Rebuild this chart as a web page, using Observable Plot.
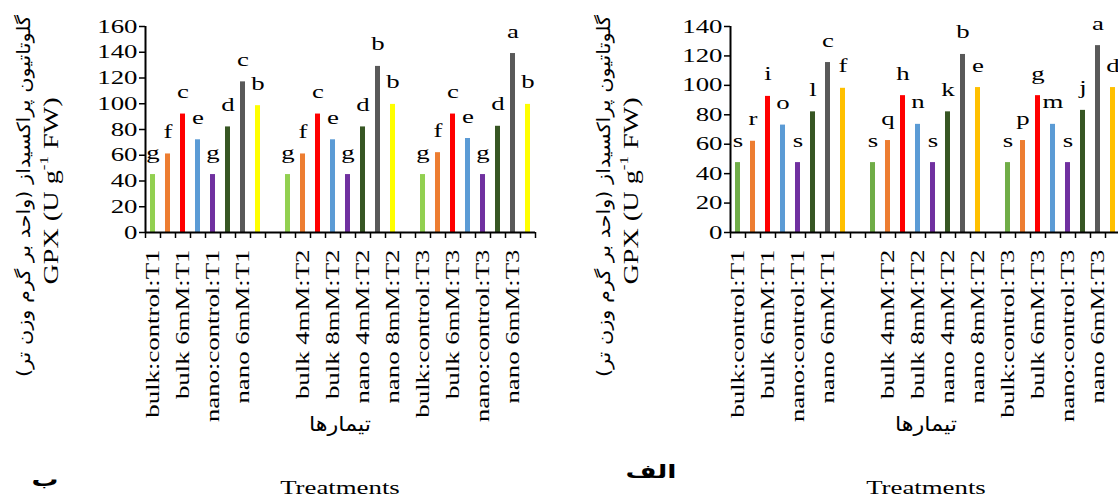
<!DOCTYPE html>
<html><head><meta charset="utf-8">
<script src="https://cdn.jsdelivr.net/npm/d3@7"></script>
<script src="https://cdn.jsdelivr.net/npm/@observablehq/plot@0.6"></script>
<style>
html,body{margin:0;padding:0;background:#fff;overflow:hidden;}
#root{position:relative;width:1118px;height:497px;overflow:hidden;background:#fff;}
#root > svg{position:absolute;top:0;}
</style></head><body><div id="root"></div>
<script>
// ---- data ----
const treatments = ["bulk:control","bulk 4mM","bulk 6mM","bulk 8mM","nano:control","nano 4mM","nano 6mM","nano 8mM"];
const times = ["T1","T2","T3"];
// panel ب (left)
const gpxB = [45, 61, 92, 72, 45, 82, 117, 98.5,
              45, 61, 92, 72, 45, 82, 129, 99.5,
              45, 62, 92, 73, 45, 82.5, 139, 99.5];
const lettersB = ["g","f","c","e","g","d","c","b",
                  "g","f","c","e","g","d","b","b",
                  "g","f","c","e","g","d","a","b"];
const yTicksB = [0,20,40,60,80,100,120,140,160];
const colorsB = ["#92d050","#ed7d31","#ff0000","#5b9bd5","#7030a0","#375623","#595959","#ffff00"];
// panel الف (right)
const gpxA = [47.5, 62, 92.5, 73, 47.5, 82, 115.5, 98,
              47.5, 62.5, 93, 73.5, 47.5, 82, 121, 98.5,
              47.5, 62.5, 93, 73.5, 47.5, 83, 127, 98.5];
const lettersA = ["s","r","i","o","s","l","c","f",
                  "s","q","h","n","s","k","b","e",
                  "s","p","g","m","s","j","a","d"];
const yTicksA = [0,20,40,60,80,100,120,140];
const colorsA = ["#70ad47","#ed7d31","#ff0000","#5b9bd5","#7030a0","#375623","#595959","#ffc000"];

const yTitleFa = "گلوتاتیون پراکسیداز (واحد بر گرم وزن تر)";
const xTitleFa = "تیمارها";
const xTitleEn = "Treatments";
const panelLabels = ["ب", "الف"];

// ---- helpers ----
const gaps = ["gap1","gap2"];
function slotDomain(){
  const s = [];
  times.forEach((t,i)=>{ if(i>0) s.push(gaps[i-1]); treatments.forEach(tr=>s.push(`${tr}:${t}`)); });
  return s;
}
const STRETCH = 1.41;
function stretchText(svg){
  for (const t of svg.querySelectorAll("text")) {
    const L = t.getComputedTextLength();
    if (L > 0 && !t.hasAttribute("textLength")) {
      t.setAttribute("textLength", L*STRETCH);
      t.setAttribute("lengthAdjust","spacingAndGlyphs");
    }
  }
}
const root = document.getElementById("root");
const serif = "'Liberation Serif','Times New Roman',serif";
const faFont = "'DejaVu Sans','Noto Sans',sans-serif";

function chart({values, letters, yTicks, colors, left}){
  const domain = slotDomain();
  const n = domain.length, step = 15;
  const yMax = yTicks[yTicks.length-1];
  const data = [];
  times.forEach((t,ti)=>treatments.forEach((tr,k)=>data.push({slot:`${tr}:${t}`, treatment:tr, value:values[ti*8+k], letter:letters[ti*8+k]})));
  const shown = new Set(domain.filter((d,i)=> i%2===0 && !gaps.includes(d)));
  const marginLeft = 145, marginRight = 12;
  const svg = Plot.plot({
    width: marginLeft + step*n + marginRight, height: 497,
    marginLeft, marginRight, marginTop: 26, marginBottom: 265,
    style: {fontFamily: serif, fontSize: "19px", color: "#000", background: "transparent", overflow: "visible"},
    x: {domain, padding: 0, axis: null},
    y: {domain: [0, yMax], axis: null},
    color: {domain: treatments, range: colors},
    marks: [
      Plot.barY(data, {x:"slot", y:"value", fill:"treatment", insetLeft:5, insetRight:5}),
      Plot.text(data, {x:"slot", y:"value", text:"letter", dy:-16, lineAnchor:"bottom", fontSize:19, fill:"#000", fontFamily: serif}),
      Plot.ruleY([0], {strokeWidth:2, stroke:"#000"}),
      Plot.ruleX([domain[0]], {y1:0, y2:yMax, dx:-step/2, strokeWidth:2, stroke:"#000"}),
      Plot.axisY({ticks: yTicks, tickSize:6, tickPadding:2, tickFormat: d=>String(d), strokeWidth:1.5, fontSize:19, fontFamily: serif, label: null}),
      Plot.axisX({ticks: domain, tickSize:0, tickPadding:17, tickRotate:-90, textAnchor:"end", tickFormat: d=> shown.has(d) ? d : "", fontSize:19, fontFamily: serif, label: null}),
      Plot.ruleX(domain, {x:d=>d, y1:0, y2:0, insetBottom:-6, dx:-step/2, strokeWidth:1.5, stroke:"#000"}),
      Plot.ruleX([domain[n-1]], {y1:0, y2:0, insetBottom:-6, dx:step/2, strokeWidth:1.5, stroke:"#000"})
    ]
  });
  svg.style.left = left + "px";
  root.appendChild(svg);
  stretchText(svg);
}

chart({values: gpxB, letters: lettersB, yTicks: yTicksB, colors: colorsB, left: 0});
chart({values: gpxA, letters: lettersA, yTicks: yTicksA, colors: colorsA, left: 585});

// ---- titles overlay ----
const ov = d3.select(root).append("svg").attr("width",1118).attr("height",497).style("left","0px").style("pointer-events","none");
function yTitle(xFa, xEn){
  ov.append("text").attr("transform",`translate(${xFa},196) rotate(-90)`)
    .attr("text-anchor","middle").attr("dominant-baseline","central").attr("direction","rtl")
    .attr("font-family",faFont).attr("font-size",18)
    .attr("textLength",362).attr("lengthAdjust","spacingAndGlyphs").text(yTitleFa);
  const t = ov.append("text").attr("transform",`translate(${xEn},191) rotate(-90)`)
    .attr("text-anchor","middle").attr("dominant-baseline","central")
    .attr("font-family",serif).attr("font-size",20);
  t.append("tspan").text("GPX (U g");
  t.append("tspan").attr("baseline-shift","super").attr("font-size",12).text("-1");
  t.append("tspan").text(" FW)");
}
yTitle(23, 51);
yTitle(603, 631);
function xTitle(cx){
  ov.append("text").attr("x",cx).attr("y",424).attr("text-anchor","middle").attr("dominant-baseline","central")
    .attr("font-family",faFont).attr("font-size",20)
    .attr("textLength",62).attr("lengthAdjust","spacingAndGlyphs").text(xTitleFa);
  ov.append("text").attr("x",cx).attr("y",494).attr("text-anchor","middle")
    .attr("font-family",serif).attr("font-size",19).text(xTitleEn);
}
xTitle(340); xTitle(926);
ov.append("text").attr("x",45).attr("y",486).attr("text-anchor","middle")
  .attr("font-family",faFont).attr("font-weight","bold").attr("font-size",19).text(panelLabels[0]);
ov.append("text").attr("x",651).attr("y",478).attr("text-anchor","middle")
  .attr("font-family",faFont).attr("font-weight","bold").attr("font-size",19).text(panelLabels[1]);
// stretch english texts in overlay (those without explicit textLength)
stretchText(ov.node());
</script></body></html>
